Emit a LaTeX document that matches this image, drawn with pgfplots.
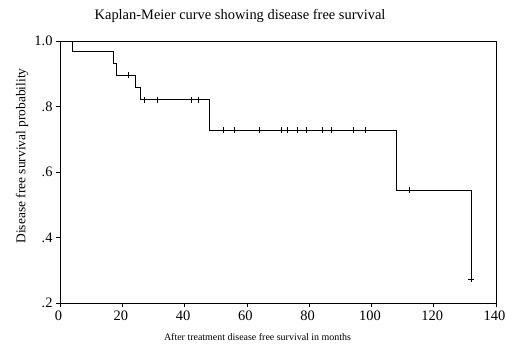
\documentclass[border=0pt]{standalone}
\usepackage{pgfplots}
\pgfplotsset{compat=1.18}
\usepackage{fontspec}
\setmainfont{Liberation Serif}
\begin{document}
\begin{tikzpicture}
\useasboundingbox (-60bp,-42bp) rectangle (446bp,303bp);
\begin{axis}[
  scale only axis, width=436bp, height=262bp,
  at={(0,0)}, anchor=south west,
  xmin=0, xmax=140, ymin=0.2, ymax=1.0,
  xtick={0,20,...,140},
  ytick={0.2,0.4,0.6,0.8,1.0},
  yticklabels={.2,.4,.6,.8,1.0},
  xtick pos=bottom, ytick pos=left,
  tick align=outside,
  major tick length=4bp,
  axis line style={black, line width=0.7pt},
  tick style={black, line width=0.7pt},
  /pgf/number format/assume math mode=true,
  tick label style={font=\fontsize{14.5}{17}\selectfont},
  xticklabel style={yshift=0bp, xshift=-1.5bp},
  title={Kaplan-Meier curve showing disease free survival},
  title style={font=\fontsize{14.5}{17}\selectfont, at={(axis description cs:0.413,1)}, anchor=center, yshift=19bp},
  ylabel={Disease free survival probability},
  ylabel style={font=\fontsize{13.5}{16}\selectfont, at={(axis description cs:-0.087,0.561)}, anchor=center},
  xlabel={After treatment disease free survival in months},
  xlabel style={font=\fontsize{10}{12}\selectfont, at={(axis description cs:0.453,-0.13)}, anchor=center},
  clip=false,
]
\addplot[const plot, black, line width=0.7pt, mark=none] coordinates {
(0,1) (4.1,0.967) (17.1,0.933) (18,0.896) (24.1,0.859) (25.9,0.821) (48.1,0.727) (108,0.545) (132.1,0.272)
};
\addplot[only marks, mark=+, mark size=3bp, black, line width=0.5pt] coordinates {
(21.9,0.896) (27.1,0.821) (31.2,0.821) (42,0.821) (44.5,0.821)
(52.3,0.727) (56,0.727) (64,0.727) (70.9,0.727) (73,0.727) (76.2,0.727) (79.2,0.727) (84.1,0.727) (87,0.727) (94.2,0.727) (98,0.727)
(112.2,0.545) (132.1,0.272)
};
\end{axis}
\end{tikzpicture}
\end{document}
